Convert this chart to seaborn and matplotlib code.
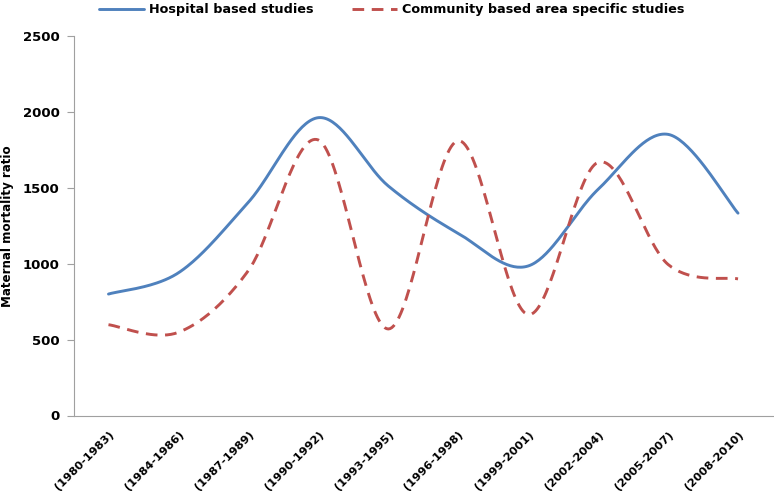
import numpy as np
import pandas as pd
import matplotlib
matplotlib.use('Agg')
import matplotlib.pyplot as plt
import matplotlib.transforms as mtransforms
import seaborn as sns

periods = ['(1980-1983)', '(1984-1986)', '(1987-1989)', '(1990-1992)', '(1993-1995)',
           '(1996-1998)', '(1999-2001)', '(2002-2004)', '(2005-2007)', '(2008-2010)']
hospital = [800, 940, 1405, 1962, 1512, 1200, 985, 1490, 1852, 1333]
community = [598, 548, 955, 1815, 570, 1810, 665, 1668, 995, 900]
yticks = [0, 500, 1000, 1500, 2000, 2500]

BLUE = '#4f81bd'
RED = '#c0504d'
AXIS_GREY = '#a0a0a0'


def excel_smooth(vals, n=40):
    """Excel-style smoothed line: cubic Bezier between points, tangent = (next - prev) / 6"""
    x = np.arange(len(vals), dtype=float)
    y = np.asarray(vals, dtype=float)
    px = np.concatenate([[x[0]], x, [x[-1]]])
    py = np.concatenate([[y[0]], y, [y[-1]]])
    xs, ys = [], []
    t = np.linspace(0, 1, n)
    for i in range(len(vals) - 1):
        p0 = np.array([px[i + 1], py[i + 1]])
        p3 = np.array([px[i + 2], py[i + 2]])
        p1 = p0 + (np.array([px[i + 2], py[i + 2]]) - np.array([px[i], py[i]])) / 6
        p2 = p3 - (np.array([px[i + 3], py[i + 3]]) - np.array([px[i + 1], py[i + 1]])) / 6
        b = ((1 - t) ** 3)[:, None] * p0 + (3 * (1 - t) ** 2 * t)[:, None] * p1 \
            + (3 * (1 - t) * t ** 2)[:, None] * p2 + (t ** 3)[:, None] * p3
        if i > 0:
            b = b[1:]
        xs.append(b[:, 0])
        ys.append(b[:, 1])
    return np.concatenate(xs), np.concatenate(ys)


sns.set_style('white')
plt.rcParams['font.family'] = ['DejaVu Sans']
plt.rcParams['text.color'] = 'black'
plt.rcParams['axes.labelcolor'] = 'black'
plt.rcParams['xtick.labelcolor'] = 'black'
plt.rcParams['ytick.labelcolor'] = 'black'

fig = plt.figure(figsize=(7.74, 4.91), dpi=100)
ax = fig.add_axes([73.5 / 774, 1 - 415.5 / 491, (773 - 73.5) / 774, (415.5 - 36) / 491])

hx, hy = excel_smooth(hospital)
cx, cy = excel_smooth(community)
sns.lineplot(x=hx, y=hy, sort=False, ax=ax, color=BLUE, linewidth=2.1,
             label='Hospital based studies')
sns.lineplot(x=cx, y=cy, sort=False, ax=ax, color=RED, linewidth=2.1,
             label='Community based area specific studies')
ax.lines[1].set_dashes((4.0, 2.6))

ax.set_xlim(-0.5, len(periods) - 0.5)
ax.set_ylim(0, 2500)

# category labels at centres, tick marks at boundaries
ax.set_xticks(range(len(periods)))
ax.set_xticklabels(periods, rotation=45, ha='right', rotation_mode='anchor',
                   fontsize=8.2, fontweight='bold')
shift = mtransforms.ScaledTranslation(-3 / 100, 0, fig.dpi_scale_trans)
for lab in ax.get_xticklabels():
    lab.set_transform(lab.get_transform() + shift)
ax.set_xticks(np.arange(-0.5, len(periods)), minor=True)
ax.tick_params(axis='x', which='major', length=0, pad=10)
ax.tick_params(axis='x', which='minor', length=5, width=0.8, color=AXIS_GREY, direction='out')

ax.set_yticks(yticks)
ax.set_yticklabels([str(v) for v in yticks], fontsize=9.5, fontweight='bold')
ax.tick_params(axis='y', length=5, width=0.8, color=AXIS_GREY, direction='out', pad=5)
ax.tick_params(axis='both', bottom=True, left=True)

ax.set_ylabel('Maternal mortality ratio', fontsize=8.6, fontweight='bold')
ax.yaxis.set_label_coords(-0.085, 0.5)

for side in ['top', 'right']:
    ax.spines[side].set_visible(False)
for side in ['left', 'bottom']:
    ax.spines[side].set_color(AXIS_GREY)
    ax.spines[side].set_linewidth(0.8)

handles, labels = ax.get_legend_handles_labels()
ax.get_legend().remove()
fig.legend(handles, labels, loc='center left', bbox_to_anchor=(93 / 774, 1 - 10 / 491),
           ncol=2, frameon=False, handlelength=3.5, handletextpad=0.4, columnspacing=3.0,
           borderpad=0, prop={'weight': 'bold', 'size': 9.2})

fig.savefig('out.png', dpi=100)
